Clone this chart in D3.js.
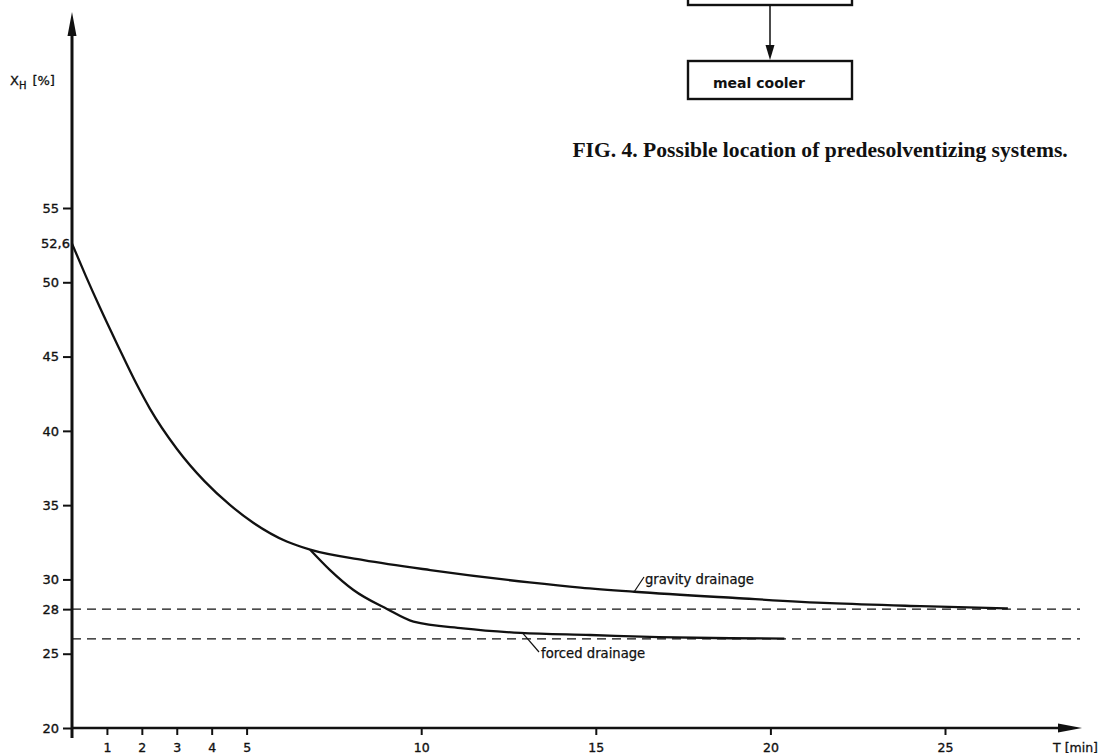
<!DOCTYPE html>
<html>
<head>
<meta charset="utf-8">
<title>Drainage curves</title>
<script src="https://cdn.jsdelivr.net/npm/d3@7"></script>
<style>
  html, body { margin: 0; padding: 0; background: #fff; }
  svg { display: block; }
</style>
</head>
<body>
<div id="chart"></div>
<script>
// data
const xTicks = [1, 2, 3, 4, 5, 10, 15, 20, 25];
const yTicks = [20, 25, 28, 30, 35, 40, 45, 50, 52.6, 55];
const yTickLabels = ['20', '25', '28', '30', '35', '40', '45', '50', '52,6', '55'];

// gravity drainage: time [min] and X_H [%]
const gravityT = [0, 0.4, 0.8, 1.3, 1.86, 2.23, 3.0, 3.8, 4.53, 5.2, 6.15, 6.82, 8.35, 10.26, 13.1, 14.56, 16.1, 19.0, 21.7, 24.3, 26.8];
const gravityX = [52.6, 50.4, 48.3, 45.8, 43.1, 41.5, 38.8, 36.6, 35.0, 33.8, 32.55, 32.0, 31.3, 30.63, 29.8, 29.45, 29.17, 28.75, 28.4, 28.2, 28.05];

// forced drainage branches off at ~6.8 min
const forcedT = [6.82, 7.39, 8.06, 9.02, 9.78, 11.2, 12.84, 14.84, 16.8, 18.85, 20.4];
const forcedX = [32.0, 30.63, 29.29, 28.01, 27.16, 26.71, 26.4, 26.26, 26.12, 26.04, 26.02];

// horizontal reference levels
const refLevels = [28, 26];

const width = 1105;
const height = 755;

const svg = d3.select('#chart')
  .append('svg')
  .attr('width', width)
  .attr('height', height)
  .style('background-color', '#fff');

const x = d3.scaleLinear().domain([0, 25]).range([72, 945]);
const y = d3.scaleLinear().domain([20, 55]).range([728, 208]);

const ink = '#111';
const font = "'DejaVu Sans', sans-serif";

// reference dashed lines
svg.selectAll('.ref')
  .data(refLevels)
  .enter()
  .append('line')
  .attr('x1', x(0))
  .attr('x2', 1080)
  .attr('y1', d => y(d))
  .attr('y2', d => y(d))
  .attr('stroke', ink)
  .attr('stroke-width', 1.3)
  .attr('stroke-dasharray', '9,6');

// axes
const yAxis = d3.axisLeft(y)
  .tickValues(yTicks)
  .tickFormat((d, i) => yTickLabels[i])
  .tickSize(9)
  .tickPadding(4);

const xAxis = d3.axisBottom(x)
  .tickValues(xTicks)
  .tickFormat(d => d)
  .tickSize(7)
  .tickPadding(8);

const gy = svg.append('g')
  .attr('transform', `translate(${x(0)},0)`)
  .call(yAxis);

const gx = svg.append('g')
  .attr('transform', `translate(0,${y(20)})`)
  .call(xAxis);

[gx, gy].forEach(g => {
  g.select('.domain').remove();
  g.selectAll('line').attr('stroke', ink).attr('stroke-width', 2);
  g.selectAll('text')
    .attr('fill', ink)
    .attr('stroke', ink)
    .attr('stroke-width', 0.35)
    .style('font-family', font)
    .style('font-size', '13px');
});
gx.selectAll('text').style('font-size', '12.5px');

// the 52,6 label sits right against the axis, without a tick
gy.selectAll('.tick')
  .filter(d => d === 52.6)
  .call(t => t.select('line').remove())
  .call(t => t.select('text').attr('x', -2));

// axis lines with arrowheads
svg.append('line')
  .attr('x1', x(0)).attr('x2', x(0))
  .attr('y1', 738).attr('y2', 30)
  .attr('stroke', ink).attr('stroke-width', 3);
svg.append('path')
  .attr('d', `M${x(0)},12 L${x(0) - 4.5},36 L${x(0) + 4.5},36 Z`)
  .attr('fill', ink);

svg.append('line')
  .attr('x1', x(0)).attr('x2', 1062)
  .attr('y1', y(20)).attr('y2', y(20))
  .attr('stroke', ink).attr('stroke-width', 2.6);
svg.append('path')
  .attr('d', `M1082,${y(20)} L1058,${y(20) - 4.5} L1058,${y(20) + 4.5} Z`)
  .attr('fill', ink);

// axis titles
const yt = svg.append('text')
  .attr('x', 10).attr('y', 85)
  .attr('fill', ink)
  .attr('stroke', ink).attr('stroke-width', 0.3)
  .style('font-family', font)
  .style('font-size', '13px');
yt.append('tspan').text('X');
yt.append('tspan').attr('dy', 4).style('font-size', '10px').text('H');
yt.append('tspan').attr('dy', -4).attr('dx', 6).text('[%]');

svg.append('text')
  .attr('x', 1098).attr('y', 752)
  .attr('text-anchor', 'end')
  .attr('fill', ink)
  .attr('stroke', ink).attr('stroke-width', 0.3)
  .style('font-family', font)
  .style('font-size', '12.5px')
  .text('T [min]');

// curves
const line = d3.line()
  .x(d => x(d[0]))
  .y(d => y(d[1]))
  .curve(d3.curveMonotoneX);

svg.append('path')
  .datum(gravityT.map((t, i) => [t, gravityX[i]]))
  .attr('d', line)
  .attr('fill', 'none')
  .attr('stroke', ink)
  .attr('stroke-width', 2.3);

svg.append('path')
  .datum(forcedT.map((t, i) => [t, forcedX[i]]))
  .attr('d', line)
  .attr('fill', 'none')
  .attr('stroke', ink)
  .attr('stroke-width', 2.3);

// curve labels with leaders
svg.append('line')
  .attr('x1', x(16.1)).attr('y1', y(29.17))
  .attr('x2', 644).attr('y2', 577)
  .attr('stroke', ink).attr('stroke-width', 1.2);
svg.append('text')
  .attr('x', 645).attr('y', 584)
  .attr('fill', ink)
  .attr('stroke', ink).attr('stroke-width', 0.25)
  .style('font-family', font)
  .style('font-size', '13.2px')
  .text('gravity drainage');

svg.append('line')
  .attr('x1', x(12.9)).attr('y1', y(26.4))
  .attr('x2', 539).attr('y2', 652)
  .attr('stroke', ink).attr('stroke-width', 1.2);
svg.append('text')
  .attr('x', 541).attr('y', 658)
  .attr('fill', ink)
  .attr('stroke', ink).attr('stroke-width', 0.25)
  .style('font-family', font)
  .style('font-size', '13.2px')
  .text('forced drainage');

// flowchart fragment at the top
svg.append('rect')
  .attr('x', 688).attr('y', -30)
  .attr('width', 164).attr('height', 35)
  .attr('fill', 'none')
  .attr('stroke', ink).attr('stroke-width', 2.4);

svg.append('line')
  .attr('x1', 770).attr('x2', 770)
  .attr('y1', 5).attr('y2', 48)
  .attr('stroke', ink).attr('stroke-width', 1.5);
svg.append('path')
  .attr('d', 'M770,60 L765.5,45 L774.5,45 Z')
  .attr('fill', ink);

svg.append('rect')
  .attr('x', 688).attr('y', 61)
  .attr('width', 164).attr('height', 38)
  .attr('fill', 'none')
  .attr('stroke', ink).attr('stroke-width', 2.4);
svg.append('text')
  .attr('x', 759).attr('y', 88)
  .attr('text-anchor', 'middle')
  .attr('fill', ink)
  .style('font-family', font)
  .style('font-weight', 'bold')
  .style('font-size', '14px')
  .text('meal cooler');

// caption: sized so that "tion of ... systems." runs from x=760 to ~1068
const capText = 'FIG. 4. Possible location of predesolventizing systems.';
const cap = svg.append('text')
  .attr('y', 157)
  .attr('fill', ink)
  .style('font-family', "'Liberation Serif', serif")
  .style('font-weight', 'bold')
  .style('font-size', '20px')
  .text(capText);
const cut = capText.indexOf('tion of');
const node = cap.node();
const tailW = node.getSubStringLength(cut, capText.length - cut);
const capSize = 20 * 308 / tailW;
cap.style('font-size', capSize + 'px');
const headW = node.getSubStringLength(0, cut);
cap.attr('x', 760 - headW);
</script>
</body>
</html>
